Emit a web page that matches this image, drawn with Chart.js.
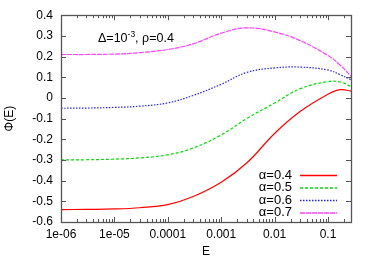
<!DOCTYPE html>
<html>
<head>
<meta charset="utf-8">
<script src="https://cdn.jsdelivr.net/npm/chart.js@4/dist/chart.umd.min.js"></script>
<style>
  html, body { margin: 0; padding: 0; background: #fff; }
</style>
</head>
<body>
<canvas id="chart" width="374" height="262"></canvas>
<script>
// data
const energies = [1e-6, 3e-6, 1e-5, 3e-5, 1e-4, 3e-4, 1e-3, 3e-3, 1e-2, 3e-2, 0.1, 0.17, 0.27];
const phiAlpha04 = [-0.54, -0.539, -0.537, -0.531, -0.516, -0.477, -0.408, -0.315, -0.172, -0.066, 0.018, 0.04, 0.033];
const phiAlpha05 = [-0.30, -0.299, -0.296, -0.29, -0.275, -0.242, -0.179, -0.10, -0.025, 0.044, 0.079, 0.077, 0.055];
const phiAlpha06 = [-0.05, -0.049, -0.046, -0.04, -0.024, 0.012, 0.066, 0.123, 0.145, 0.149, 0.135, 0.112, 0.088];
const phiAlpha07 = [0.21, 0.21, 0.212, 0.219, 0.234, 0.262, 0.313, 0.339, 0.319, 0.277, 0.205, 0.158, 0.105];
const seriesLabels = ['\u03b1=0.4', '\u03b1=0.5', '\u03b1=0.6', '\u03b1=0.7'];
const xTicks = [1e-6, 1e-5, 1e-4, 1e-3, 1e-2, 1e-1];
const xTickLabels = ['1e-06', '1e-05', '0.0001', '0.001', '0.01', '0.1'];

const FONT = '"Liberation Sans", Arial, sans-serif';

function toPoints(ys) {
    return energies.map((e, i) => ({ x: e, y: ys[i] }));
}

function makeSet(label, ys, color, dash) {
    return {
        label: label,
        data: toPoints(ys),
        borderColor: color,
        borderWidth: 1.2,
        borderDash: dash,
        pointRadius: 0,
        fill: false,
        tension: 0.4
    };
}

//frame, inward ticks, legend and the note
const decorPlugin = {
    id: 'decor',
    afterDraw(chart) {
        const ctx = chart.ctx;
        const a = chart.chartArea;
        const xs = chart.scales.x;
        const ys = chart.scales.y;
        ctx.save();
        ctx.strokeStyle = '#555';
        ctx.lineWidth = 1;

        ctx.beginPath();
        //x ticks, major and minor
        xTicks.forEach(d => {
            for (let m = 1; m <= 9; m++) {
                const v = d * m;
                if (v > xs.max) break;
                const px = Math.round(xs.getPixelForValue(v)) + 0.5;
                const len = m === 1 ? 5 : 3;
                ctx.moveTo(px, a.bottom); ctx.lineTo(px, a.bottom - len);
                ctx.moveTo(px, a.top); ctx.lineTo(px, a.top + len);
            }
        });
        //y ticks
        ys.ticks.forEach(t => {
            const py = Math.round(ys.getPixelForValue(t.value)) + 0.5;
            ctx.moveTo(a.left, py); ctx.lineTo(a.left + 5, py);
            ctx.moveTo(a.right, py); ctx.lineTo(a.right - 5, py);
        });
        ctx.stroke();

        ctx.lineWidth = 1.3;
        ctx.strokeRect(Math.round(a.left) + 0.5, Math.round(a.top) + 0.5,
            Math.round(a.right - a.left), Math.round(a.bottom - a.top));

        //legend
        ctx.textAlign = 'right';
        ctx.textBaseline = 'middle';
        chart.data.datasets.forEach((ds, i) => {
            const y = a.bottom - 47 + i * 12.5;
            ctx.font = '13px ' + FONT;
            ctx.fillStyle = '#000';
            ctx.fillText(ds.label, a.right - 59, y);
            ctx.beginPath();
            ctx.strokeStyle = ds.borderColor;
            ctx.lineWidth = 1.4;
            ctx.setLineDash(ds.borderDash || []);
            ctx.moveTo(a.right - 51, y + 0.5);
            ctx.lineTo(a.right - 14, y + 0.5);
            ctx.stroke();
        });
        ctx.setLineDash([]);

        //note
        ctx.fillStyle = '#000';
        ctx.textAlign = 'left';
        ctx.textBaseline = 'alphabetic';
        ctx.font = '12.5px ' + FONT;
        let x = a.left + 37;
        const y = a.top + 27;
        ctx.fillText('\u0394=10', x, y);
        x += ctx.measureText('\u0394=10').width;
        ctx.font = '8.5px ' + FONT;
        ctx.fillText('-3', x, y - 5);
        x += ctx.measureText('-3').width;
        ctx.font = '12.5px ' + FONT;
        ctx.fillText(', \u03c1=0.4', x, y);
        ctx.restore();
    }
};

const chart = new Chart(document.getElementById('chart'), {
    type: 'line',
    data: {
        datasets: [
            makeSet(seriesLabels[0], phiAlpha04, '#ff0000', []),
            makeSet(seriesLabels[1], phiAlpha05, '#00dd00', [3, 2]),
            makeSet(seriesLabels[2], phiAlpha06, '#2020ff', [1.5, 1.5]),
            makeSet(seriesLabels[3], phiAlpha07, '#ff40ff', [5, 1])
        ]
    },
    options: {
        responsive: false,
        animation: false,
        devicePixelRatio: 1,
        layout: { padding: { left: 0, right: 23, top: 15, bottom: 0 } },
        plugins: {
            legend: { display: false },
            tooltip: { enabled: false }
        },
        scales: {
            x: {
                type: 'logarithmic',
                min: 1e-6,
                max: 0.27,
                grid: { display: false, drawTicks: false },
                border: { display: false },
                afterBuildTicks: scale => {
                    scale.ticks = xTicks.map(v => ({ value: v }));
                },
                afterFit: scale => { scale.height = 40; },
                ticks: {
                    autoSkip: false,
                    maxRotation: 0,
                    padding: 5,
                    color: '#000',
                    font: { family: FONT, size: 12 },
                    callback: v => {
                        const i = xTicks.findIndex(t => Math.abs(t - v) / t < 1e-6);
                        return i >= 0 ? xTickLabels[i] : '';
                    }
                },
                title: {
                    display: true,
                    text: 'E',
                    color: '#000',
                    font: { family: FONT, size: 12 },
                    padding: { top: 0, bottom: 3 }
                }
            },
            y: {
                min: -0.6,
                max: 0.4,
                grid: { display: false, drawTicks: false },
                border: { display: false },
                afterFit: scale => { scale.width = 61; },
                ticks: {
                    stepSize: 0.1,
                    padding: 8,
                    color: '#000',
                    font: { family: FONT, size: 12 },
                    callback: v => {
                        const r = Math.round(v * 10) / 10;
                        return r === 0 ? '0' : r.toFixed(1);
                    }
                },
                title: {
                    display: true,
                    text: '\u03a6(E)',
                    color: '#000',
                    font: { family: FONT, size: 12 },
                    padding: { top: 2, bottom: 0 }
                }
            }
        }
    },
    plugins: [decorPlugin]
});
</script>
</body>
</html>
